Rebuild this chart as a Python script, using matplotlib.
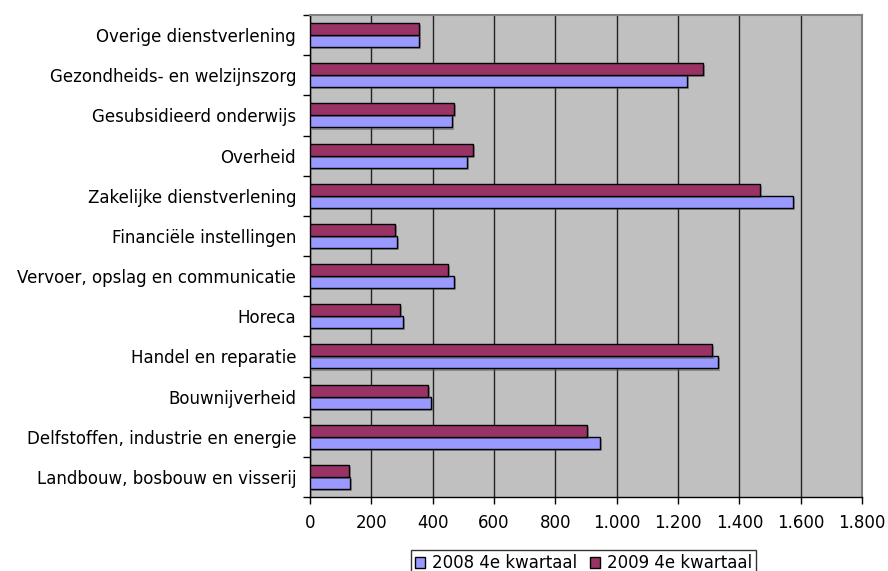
import matplotlib
matplotlib.use("Agg")
import matplotlib.pyplot as plt
import matplotlib.patheffects as pe
from matplotlib.ticker import FuncFormatter, MultipleLocator
import numpy as np

categories = [
    "Landbouw, bosbouw en visserij",
    "Delfstoffen, industrie en energie",
    "Bouwnijverheid",
    "Handel en reparatie",
    "Horeca",
    "Vervoer, opslag en communicatie",
    "Financiële instellingen",
    "Zakelijke dienstverlening",
    "Overheid",
    "Gesubsidieerd onderwijs",
    "Gezondheids- en welzijnszorg",
    "Overige dienstverlening",
]
series_names = ["2008 4e kwartaal", "2009 4e kwartaal"]
values_2008 = [130, 947, 395, 1329, 303, 469, 283, 1576, 511, 464, 1229, 355]
values_2009 = [127, 903, 385, 1310, 293, 449, 278, 1468, 531, 469, 1280, 356]

W, H = 888, 571
fig = plt.figure(figsize=(W / 100, H / 100), dpi=100)
fig.patch.set_facecolor("white")
left, right, top, bottom = 310, 862, 15, 497
ax = fig.add_axes([left / W, 1 - bottom / H, (right - left) / W, (bottom - top) / H])
ax.set_facecolor("#C0C0C0")

y = np.arange(len(categories))
h = 0.3
shadow = [pe.SimplePatchShadow(offset=(1.5, -1.5), shadow_rgbFace="#555555", alpha=0.5), pe.Normal()]
b1 = ax.barh(y - h / 2, values_2008, height=h, color="#9999FF", edgecolor="black", linewidth=1.0,
             label=series_names[0], zorder=3)
b2 = ax.barh(y + h / 2, values_2009, height=h, color="#993366", edgecolor="black", linewidth=1.0,
             label=series_names[1], zorder=3)
for bars in (b1, b2):
    for p in bars:
        p.set_path_effects(shadow)

ax.set_xlim(0, 1800)
ax.set_ylim(-0.5, len(categories) - 0.5)
ax.xaxis.set_major_locator(MultipleLocator(200))
ax.xaxis.set_major_formatter(FuncFormatter(lambda v, p: f"{int(v):,}".replace(",", ".")))
ax.set_yticks(y)
ax.set_yticklabels(categories)
ax.set_yticks(np.arange(-0.5, len(categories), 1.0), minor=True)
ax.tick_params(axis="y", which="major", length=0, pad=10, labelsize=12, colors="black")
ax.tick_params(axis="y", which="minor", length=5, width=1, direction="out", color="black")
ax.tick_params(axis="x", which="major", length=5, width=1, direction="out", labelsize=12, pad=7)
ax.grid(axis="x", color="#222222", linewidth=1.0, zorder=1)
ax.set_axisbelow(True)
for s in ("left", "bottom"):
    ax.spines[s].set_color("black")
    ax.spines[s].set_linewidth(1.0)
for s in ("top", "right"):
    ax.spines[s].set_color("#808080")
    ax.spines[s].set_linewidth(1.5)

leg = fig.legend(handles=[b1, b2], labels=series_names, loc="upper left",
                 bbox_to_anchor=(411 / W, 1 - 550 / H), ncol=2, frameon=True, fancybox=False,
                 edgecolor="black", fontsize=12, handlelength=0.6, handleheight=0.6,
                 handletextpad=0.4, columnspacing=0.8, borderpad=0.25, borderaxespad=0)
leg.get_frame().set_linewidth(1.0)
for hnd in leg.legend_handles:
    hnd.set_path_effects([])

fig.savefig("out.png", dpi=100, facecolor="white")
